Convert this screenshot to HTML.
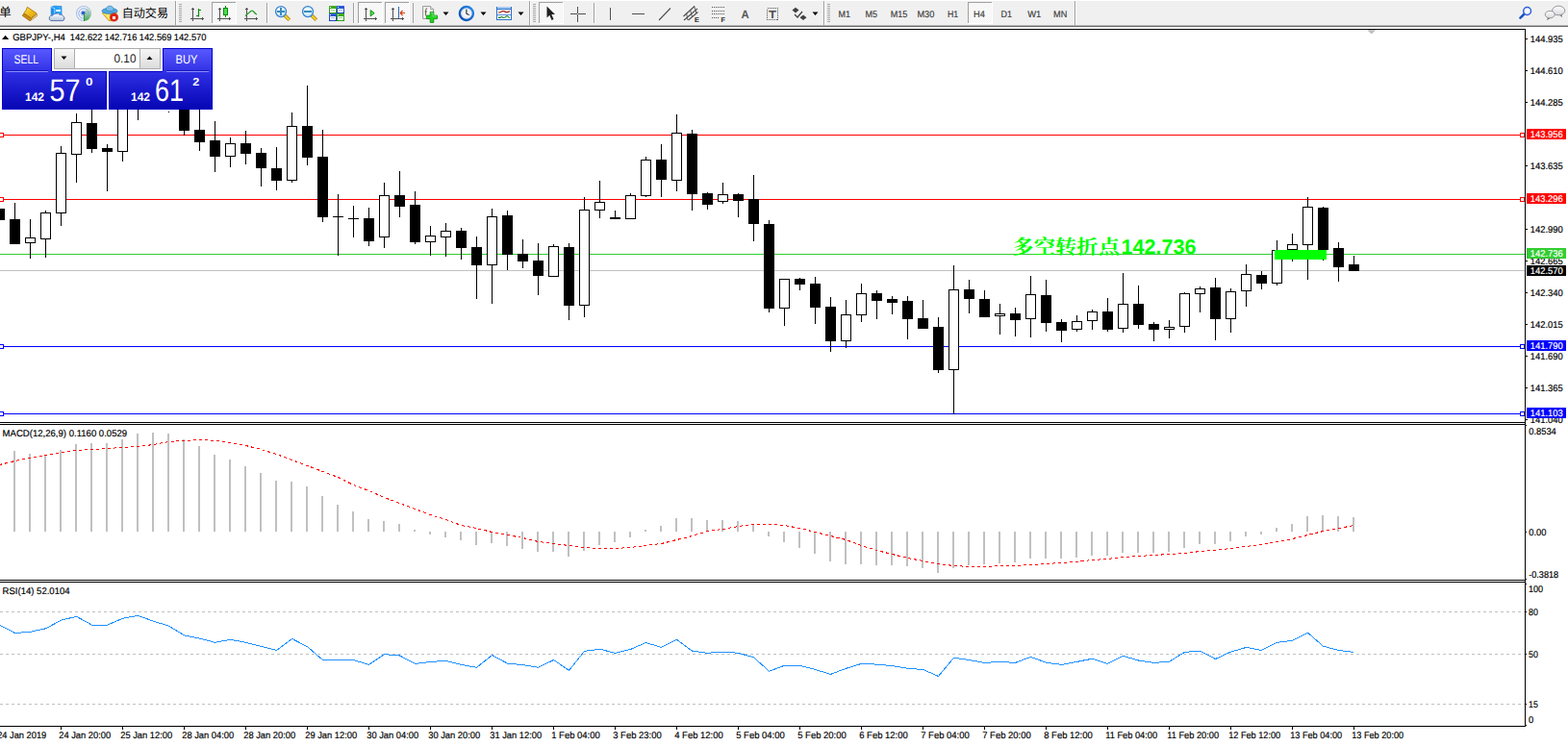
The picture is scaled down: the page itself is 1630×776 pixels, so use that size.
<!DOCTYPE html>
<html><head><meta charset="utf-8"><title>GBPJPY H4</title>
<style>html,body{margin:0;padding:0;background:#fff;overflow:hidden}svg{display:block}</style></head>
<body>
<svg width="1630" height="776" viewBox="0 0 1630 776" font-family="Liberation Sans, sans-serif" shape-rendering="crispEdges" text-rendering="geometricPrecision">
<rect x="0" y="0" width="1630" height="776" fill="#fff"/>
<rect x="0" y="30" width="1586" height="1" fill="#000"/>
<rect x="1585" y="30" width="1" height="726" fill="#000"/>
<rect x="0" y="439" width="1586" height="1" fill="#000"/>
<rect x="0" y="441" width="1586" height="1" fill="#000"/>
<rect x="0" y="603" width="1586" height="1" fill="#000"/>
<rect x="0" y="605" width="1586" height="1" fill="#000"/>
<rect x="0" y="755" width="1586" height="1" fill="#000"/>
<rect x="0" y="281" width="1585" height="1" fill="#c0c0c0"/>
<rect x="0" y="264" width="1585" height="1" fill="#32cd32"/>
<rect x="0" y="140" width="1585" height="1" fill="#ff0000"/>
<rect x="0" y="207" width="1585" height="1" fill="#ff0000"/>
<rect x="0" y="360" width="1585" height="1" fill="#0000ff"/>
<rect x="0" y="430" width="1585" height="1" fill="#0000ff"/>
<rect x="15" y="211" width="1" height="43" fill="#000"/>
<rect x="10" y="228" width="11" height="26" fill="#000"/>
<rect x="31" y="228" width="1" height="41" fill="#000"/>
<rect x="26" y="247" width="11" height="6" fill="#000"/>
<rect x="27" y="248" width="9" height="4" fill="#fff"/>
<rect x="47" y="219" width="1" height="49" fill="#000"/>
<rect x="42" y="221" width="11" height="28" fill="#000"/>
<rect x="43" y="222" width="9" height="26" fill="#fff"/>
<rect x="63" y="152" width="1" height="83" fill="#000"/>
<rect x="58" y="159" width="11" height="63" fill="#000"/>
<rect x="59" y="160" width="9" height="61" fill="#fff"/>
<rect x="79" y="118" width="1" height="72" fill="#000"/>
<rect x="74" y="127" width="11" height="34" fill="#000"/>
<rect x="75" y="128" width="9" height="32" fill="#fff"/>
<rect x="95" y="100" width="1" height="59" fill="#000"/>
<rect x="90" y="128" width="11" height="27" fill="#000"/>
<rect x="111" y="150" width="1" height="49" fill="#000"/>
<rect x="106" y="154" width="11" height="4" fill="#000"/>
<rect x="127" y="90" width="1" height="78" fill="#000"/>
<rect x="122" y="100" width="11" height="58" fill="#000"/>
<rect x="123" y="101" width="9" height="56" fill="#fff"/>
<rect x="143" y="90" width="1" height="35" fill="#000"/>
<rect x="138" y="100" width="11" height="13" fill="#000"/>
<rect x="207" y="110" width="1" height="47" fill="#000"/>
<rect x="202" y="135" width="11" height="13" fill="#000"/>
<rect x="223" y="126" width="1" height="53" fill="#000"/>
<rect x="218" y="146" width="11" height="17" fill="#000"/>
<rect x="239" y="143" width="1" height="31" fill="#000"/>
<rect x="234" y="149" width="11" height="14" fill="#000"/>
<rect x="235" y="150" width="9" height="12" fill="#fff"/>
<rect x="255" y="136" width="1" height="35" fill="#000"/>
<rect x="250" y="149" width="11" height="11" fill="#000"/>
<rect x="271" y="154" width="1" height="40" fill="#000"/>
<rect x="266" y="159" width="11" height="16" fill="#000"/>
<rect x="287" y="153" width="1" height="45" fill="#000"/>
<rect x="282" y="175" width="11" height="13" fill="#000"/>
<rect x="303" y="117" width="1" height="73" fill="#000"/>
<rect x="298" y="131" width="11" height="57" fill="#000"/>
<rect x="299" y="132" width="9" height="55" fill="#fff"/>
<rect x="319" y="89" width="1" height="83" fill="#000"/>
<rect x="314" y="131" width="11" height="33" fill="#000"/>
<rect x="335" y="135" width="1" height="96" fill="#000"/>
<rect x="330" y="163" width="11" height="63" fill="#000"/>
<rect x="351" y="202" width="1" height="64" fill="#000"/>
<rect x="346" y="225" width="11" height="1" fill="#000"/>
<rect x="367" y="214" width="1" height="33" fill="#000"/>
<rect x="362" y="227" width="11" height="1" fill="#000"/>
<rect x="383" y="216" width="1" height="40" fill="#000"/>
<rect x="378" y="227" width="11" height="24" fill="#000"/>
<rect x="399" y="190" width="1" height="68" fill="#000"/>
<rect x="394" y="203" width="11" height="44" fill="#000"/>
<rect x="395" y="204" width="9" height="42" fill="#fff"/>
<rect x="415" y="178" width="1" height="48" fill="#000"/>
<rect x="410" y="203" width="11" height="12" fill="#000"/>
<rect x="431" y="199" width="1" height="55" fill="#000"/>
<rect x="426" y="213" width="11" height="39" fill="#000"/>
<rect x="447" y="235" width="1" height="31" fill="#000"/>
<rect x="442" y="245" width="11" height="7" fill="#000"/>
<rect x="443" y="246" width="9" height="5" fill="#fff"/>
<rect x="463" y="232" width="1" height="35" fill="#000"/>
<rect x="458" y="240" width="11" height="7" fill="#000"/>
<rect x="459" y="241" width="9" height="5" fill="#fff"/>
<rect x="479" y="237" width="1" height="33" fill="#000"/>
<rect x="474" y="240" width="11" height="18" fill="#000"/>
<rect x="495" y="246" width="1" height="65" fill="#000"/>
<rect x="490" y="257" width="11" height="19" fill="#000"/>
<rect x="511" y="217" width="1" height="99" fill="#000"/>
<rect x="506" y="225" width="11" height="51" fill="#000"/>
<rect x="507" y="226" width="9" height="49" fill="#fff"/>
<rect x="527" y="219" width="1" height="62" fill="#000"/>
<rect x="522" y="224" width="11" height="41" fill="#000"/>
<rect x="543" y="249" width="1" height="30" fill="#000"/>
<rect x="538" y="264" width="11" height="8" fill="#000"/>
<rect x="559" y="253" width="1" height="54" fill="#000"/>
<rect x="554" y="271" width="11" height="16" fill="#000"/>
<rect x="575" y="254" width="1" height="34" fill="#000"/>
<rect x="570" y="256" width="11" height="32" fill="#000"/>
<rect x="571" y="257" width="9" height="30" fill="#fff"/>
<rect x="591" y="253" width="1" height="80" fill="#000"/>
<rect x="586" y="257" width="11" height="61" fill="#000"/>
<rect x="607" y="205" width="1" height="125" fill="#000"/>
<rect x="602" y="218" width="11" height="100" fill="#000"/>
<rect x="603" y="219" width="9" height="98" fill="#fff"/>
<rect x="623" y="188" width="1" height="39" fill="#000"/>
<rect x="618" y="210" width="11" height="9" fill="#000"/>
<rect x="619" y="211" width="9" height="7" fill="#fff"/>
<rect x="639" y="219" width="1" height="9" fill="#000"/>
<rect x="634" y="226" width="11" height="2" fill="#000"/>
<rect x="655" y="201" width="1" height="27" fill="#000"/>
<rect x="650" y="203" width="11" height="25" fill="#000"/>
<rect x="651" y="204" width="9" height="23" fill="#fff"/>
<rect x="671" y="163" width="1" height="42" fill="#000"/>
<rect x="666" y="166" width="11" height="38" fill="#000"/>
<rect x="667" y="167" width="9" height="36" fill="#fff"/>
<rect x="687" y="150" width="1" height="55" fill="#000"/>
<rect x="682" y="166" width="11" height="21" fill="#000"/>
<rect x="703" y="119" width="1" height="80" fill="#000"/>
<rect x="698" y="138" width="11" height="50" fill="#000"/>
<rect x="699" y="139" width="9" height="48" fill="#fff"/>
<rect x="719" y="135" width="1" height="84" fill="#000"/>
<rect x="714" y="139" width="11" height="63" fill="#000"/>
<rect x="735" y="200" width="1" height="18" fill="#000"/>
<rect x="730" y="201" width="11" height="12" fill="#000"/>
<rect x="751" y="190" width="1" height="22" fill="#000"/>
<rect x="746" y="202" width="11" height="8" fill="#000"/>
<rect x="747" y="203" width="9" height="6" fill="#fff"/>
<rect x="767" y="201" width="1" height="25" fill="#000"/>
<rect x="762" y="202" width="11" height="7" fill="#000"/>
<rect x="783" y="182" width="1" height="69" fill="#000"/>
<rect x="778" y="207" width="11" height="26" fill="#000"/>
<rect x="799" y="229" width="1" height="96" fill="#000"/>
<rect x="794" y="233" width="11" height="88" fill="#000"/>
<rect x="815" y="290" width="1" height="49" fill="#000"/>
<rect x="810" y="290" width="11" height="31" fill="#000"/>
<rect x="811" y="291" width="9" height="29" fill="#fff"/>
<rect x="831" y="289" width="1" height="13" fill="#000"/>
<rect x="826" y="290" width="11" height="6" fill="#000"/>
<rect x="847" y="288" width="1" height="49" fill="#000"/>
<rect x="842" y="295" width="11" height="25" fill="#000"/>
<rect x="863" y="309" width="1" height="57" fill="#000"/>
<rect x="858" y="319" width="11" height="36" fill="#000"/>
<rect x="879" y="312" width="1" height="50" fill="#000"/>
<rect x="874" y="327" width="11" height="28" fill="#000"/>
<rect x="875" y="328" width="9" height="26" fill="#fff"/>
<rect x="895" y="295" width="1" height="40" fill="#000"/>
<rect x="890" y="305" width="11" height="23" fill="#000"/>
<rect x="891" y="306" width="9" height="21" fill="#fff"/>
<rect x="911" y="302" width="1" height="30" fill="#000"/>
<rect x="906" y="305" width="11" height="8" fill="#000"/>
<rect x="927" y="308" width="1" height="19" fill="#000"/>
<rect x="922" y="311" width="11" height="4" fill="#000"/>
<rect x="943" y="308" width="1" height="45" fill="#000"/>
<rect x="938" y="313" width="11" height="19" fill="#000"/>
<rect x="959" y="312" width="1" height="30" fill="#000"/>
<rect x="954" y="331" width="11" height="11" fill="#000"/>
<rect x="975" y="330" width="1" height="58" fill="#000"/>
<rect x="970" y="340" width="11" height="45" fill="#000"/>
<rect x="991" y="276" width="1" height="155" fill="#000"/>
<rect x="986" y="301" width="11" height="84" fill="#000"/>
<rect x="987" y="302" width="9" height="82" fill="#fff"/>
<rect x="1007" y="291" width="1" height="35" fill="#000"/>
<rect x="1002" y="301" width="11" height="10" fill="#000"/>
<rect x="1023" y="302" width="1" height="28" fill="#000"/>
<rect x="1018" y="311" width="11" height="19" fill="#000"/>
<rect x="1039" y="316" width="1" height="32" fill="#000"/>
<rect x="1034" y="326" width="11" height="3" fill="#000"/>
<rect x="1035" y="327" width="9" height="1" fill="#fff"/>
<rect x="1055" y="320" width="1" height="30" fill="#000"/>
<rect x="1050" y="326" width="11" height="7" fill="#000"/>
<rect x="1071" y="287" width="1" height="64" fill="#000"/>
<rect x="1066" y="306" width="11" height="26" fill="#000"/>
<rect x="1067" y="307" width="9" height="24" fill="#fff"/>
<rect x="1087" y="291" width="1" height="54" fill="#000"/>
<rect x="1082" y="307" width="11" height="29" fill="#000"/>
<rect x="1103" y="332" width="1" height="24" fill="#000"/>
<rect x="1098" y="335" width="11" height="9" fill="#000"/>
<rect x="1119" y="328" width="1" height="17" fill="#000"/>
<rect x="1114" y="334" width="11" height="9" fill="#000"/>
<rect x="1115" y="335" width="9" height="7" fill="#fff"/>
<rect x="1135" y="322" width="1" height="21" fill="#000"/>
<rect x="1130" y="324" width="11" height="10" fill="#000"/>
<rect x="1131" y="325" width="9" height="8" fill="#fff"/>
<rect x="1151" y="310" width="1" height="35" fill="#000"/>
<rect x="1146" y="324" width="11" height="19" fill="#000"/>
<rect x="1167" y="284" width="1" height="62" fill="#000"/>
<rect x="1162" y="316" width="11" height="26" fill="#000"/>
<rect x="1163" y="317" width="9" height="24" fill="#fff"/>
<rect x="1183" y="297" width="1" height="45" fill="#000"/>
<rect x="1178" y="316" width="11" height="22" fill="#000"/>
<rect x="1199" y="335" width="1" height="20" fill="#000"/>
<rect x="1194" y="337" width="11" height="6" fill="#000"/>
<rect x="1215" y="333" width="1" height="19" fill="#000"/>
<rect x="1210" y="340" width="11" height="3" fill="#000"/>
<rect x="1211" y="341" width="9" height="1" fill="#fff"/>
<rect x="1231" y="304" width="1" height="42" fill="#000"/>
<rect x="1226" y="305" width="11" height="35" fill="#000"/>
<rect x="1227" y="306" width="9" height="33" fill="#fff"/>
<rect x="1247" y="298" width="1" height="27" fill="#000"/>
<rect x="1242" y="300" width="11" height="6" fill="#000"/>
<rect x="1243" y="301" width="9" height="4" fill="#fff"/>
<rect x="1263" y="289" width="1" height="65" fill="#000"/>
<rect x="1258" y="299" width="11" height="33" fill="#000"/>
<rect x="1279" y="300" width="1" height="46" fill="#000"/>
<rect x="1274" y="303" width="11" height="29" fill="#000"/>
<rect x="1275" y="304" width="9" height="27" fill="#fff"/>
<rect x="1295" y="275" width="1" height="44" fill="#000"/>
<rect x="1290" y="285" width="11" height="18" fill="#000"/>
<rect x="1291" y="286" width="9" height="16" fill="#fff"/>
<rect x="1311" y="282" width="1" height="19" fill="#000"/>
<rect x="1306" y="286" width="11" height="9" fill="#000"/>
<rect x="1327" y="250" width="1" height="47" fill="#000"/>
<rect x="1322" y="260" width="11" height="35" fill="#000"/>
<rect x="1323" y="261" width="9" height="33" fill="#fff"/>
<rect x="1343" y="243" width="1" height="29" fill="#000"/>
<rect x="1338" y="254" width="11" height="6" fill="#000"/>
<rect x="1339" y="255" width="9" height="4" fill="#fff"/>
<rect x="1359" y="205" width="1" height="86" fill="#000"/>
<rect x="1354" y="215" width="11" height="40" fill="#000"/>
<rect x="1355" y="216" width="9" height="38" fill="#fff"/>
<rect x="1375" y="215" width="1" height="56" fill="#000"/>
<rect x="1370" y="216" width="11" height="44" fill="#000"/>
<rect x="1391" y="252" width="1" height="41" fill="#000"/>
<rect x="1386" y="258" width="11" height="20" fill="#000"/>
<rect x="1407" y="266" width="1" height="16" fill="#000"/>
<rect x="1402" y="275" width="11" height="7" fill="#000"/>
<rect x="-1" y="217" width="1" height="12" fill="#000"/>
<rect x="-6" y="217" width="11" height="12" fill="#000"/>
<rect x="175" y="116" width="1" height="1" fill="#000"/>
<rect x="191" y="100" width="1" height="41" fill="#000"/>
<rect x="186" y="105" width="11" height="31" fill="#000"/>
<rect x="-1" y="138" width="5" height="5" fill="#ff0000"/>
<rect x="0" y="139" width="3" height="3" fill="#fff"/>
<rect x="1580" y="138" width="5" height="5" fill="#ff0000"/>
<rect x="1581" y="139" width="3" height="3" fill="#fff"/>
<rect x="-1" y="205" width="5" height="5" fill="#ff0000"/>
<rect x="0" y="206" width="3" height="3" fill="#fff"/>
<rect x="1580" y="205" width="5" height="5" fill="#ff0000"/>
<rect x="1581" y="206" width="3" height="3" fill="#fff"/>
<rect x="-1" y="358" width="5" height="5" fill="#0000ff"/>
<rect x="0" y="359" width="3" height="3" fill="#fff"/>
<rect x="1580" y="358" width="5" height="5" fill="#0000ff"/>
<rect x="1581" y="359" width="3" height="3" fill="#fff"/>
<rect x="-1" y="428" width="5" height="5" fill="#0000ff"/>
<rect x="0" y="429" width="3" height="3" fill="#fff"/>
<rect x="1580" y="428" width="5" height="5" fill="#0000ff"/>
<rect x="1581" y="429" width="3" height="3" fill="#fff"/>
<rect x="14" y="469" width="2" height="84" fill="#c0c0c0"/>
<rect x="30" y="472" width="2" height="81" fill="#c0c0c0"/>
<rect x="46" y="473" width="2" height="80" fill="#c0c0c0"/>
<rect x="62" y="468" width="2" height="85" fill="#c0c0c0"/>
<rect x="78" y="462" width="2" height="91" fill="#c0c0c0"/>
<rect x="94" y="461" width="2" height="92" fill="#c0c0c0"/>
<rect x="110" y="461" width="2" height="92" fill="#c0c0c0"/>
<rect x="126" y="457" width="2" height="96" fill="#c0c0c0"/>
<rect x="142" y="451" width="2" height="102" fill="#c0c0c0"/>
<rect x="158" y="450" width="2" height="103" fill="#c0c0c0"/>
<rect x="174" y="451" width="2" height="102" fill="#c0c0c0"/>
<rect x="190" y="457" width="2" height="96" fill="#c0c0c0"/>
<rect x="206" y="464" width="2" height="89" fill="#c0c0c0"/>
<rect x="222" y="473" width="2" height="80" fill="#c0c0c0"/>
<rect x="238" y="478" width="2" height="75" fill="#c0c0c0"/>
<rect x="254" y="485" width="2" height="68" fill="#c0c0c0"/>
<rect x="270" y="492" width="2" height="61" fill="#c0c0c0"/>
<rect x="286" y="500" width="2" height="53" fill="#c0c0c0"/>
<rect x="302" y="501" width="2" height="52" fill="#c0c0c0"/>
<rect x="318" y="506" width="2" height="47" fill="#c0c0c0"/>
<rect x="334" y="516" width="2" height="37" fill="#c0c0c0"/>
<rect x="350" y="525" width="2" height="28" fill="#c0c0c0"/>
<rect x="366" y="532" width="2" height="21" fill="#c0c0c0"/>
<rect x="382" y="540" width="2" height="13" fill="#c0c0c0"/>
<rect x="398" y="542" width="2" height="11" fill="#c0c0c0"/>
<rect x="414" y="545" width="2" height="8" fill="#c0c0c0"/>
<rect x="430" y="551" width="2" height="2" fill="#c0c0c0"/>
<rect x="446" y="553" width="2" height="3" fill="#c0c0c0"/>
<rect x="462" y="553" width="2" height="6" fill="#c0c0c0"/>
<rect x="478" y="553" width="2" height="9" fill="#c0c0c0"/>
<rect x="494" y="553" width="2" height="14" fill="#c0c0c0"/>
<rect x="510" y="553" width="2" height="12" fill="#c0c0c0"/>
<rect x="526" y="553" width="2" height="15" fill="#c0c0c0"/>
<rect x="542" y="553" width="2" height="18" fill="#c0c0c0"/>
<rect x="558" y="553" width="2" height="21" fill="#c0c0c0"/>
<rect x="574" y="553" width="2" height="21" fill="#c0c0c0"/>
<rect x="590" y="553" width="2" height="26" fill="#c0c0c0"/>
<rect x="606" y="553" width="2" height="20" fill="#c0c0c0"/>
<rect x="622" y="553" width="2" height="14" fill="#c0c0c0"/>
<rect x="638" y="553" width="2" height="11" fill="#c0c0c0"/>
<rect x="654" y="553" width="2" height="6" fill="#c0c0c0"/>
<rect x="670" y="551" width="2" height="2" fill="#c0c0c0"/>
<rect x="686" y="547" width="2" height="6" fill="#c0c0c0"/>
<rect x="702" y="539" width="2" height="14" fill="#c0c0c0"/>
<rect x="718" y="539" width="2" height="14" fill="#c0c0c0"/>
<rect x="734" y="541" width="2" height="12" fill="#c0c0c0"/>
<rect x="750" y="541" width="2" height="12" fill="#c0c0c0"/>
<rect x="766" y="542" width="2" height="11" fill="#c0c0c0"/>
<rect x="782" y="545" width="2" height="8" fill="#c0c0c0"/>
<rect x="798" y="553" width="2" height="5" fill="#c0c0c0"/>
<rect x="814" y="553" width="2" height="11" fill="#c0c0c0"/>
<rect x="830" y="553" width="2" height="17" fill="#c0c0c0"/>
<rect x="846" y="553" width="2" height="23" fill="#c0c0c0"/>
<rect x="862" y="553" width="2" height="31" fill="#c0c0c0"/>
<rect x="878" y="553" width="2" height="34" fill="#c0c0c0"/>
<rect x="894" y="553" width="2" height="34" fill="#c0c0c0"/>
<rect x="910" y="553" width="2" height="35" fill="#c0c0c0"/>
<rect x="926" y="553" width="2" height="35" fill="#c0c0c0"/>
<rect x="942" y="553" width="2" height="36" fill="#c0c0c0"/>
<rect x="958" y="553" width="2" height="38" fill="#c0c0c0"/>
<rect x="974" y="553" width="2" height="43" fill="#c0c0c0"/>
<rect x="990" y="553" width="2" height="38" fill="#c0c0c0"/>
<rect x="1006" y="553" width="2" height="35" fill="#c0c0c0"/>
<rect x="1022" y="553" width="2" height="34" fill="#c0c0c0"/>
<rect x="1038" y="553" width="2" height="33" fill="#c0c0c0"/>
<rect x="1054" y="553" width="2" height="32" fill="#c0c0c0"/>
<rect x="1070" y="553" width="2" height="28" fill="#c0c0c0"/>
<rect x="1086" y="553" width="2" height="28" fill="#c0c0c0"/>
<rect x="1102" y="553" width="2" height="28" fill="#c0c0c0"/>
<rect x="1118" y="553" width="2" height="27" fill="#c0c0c0"/>
<rect x="1134" y="553" width="2" height="25" fill="#c0c0c0"/>
<rect x="1150" y="553" width="2" height="25" fill="#c0c0c0"/>
<rect x="1166" y="553" width="2" height="22" fill="#c0c0c0"/>
<rect x="1182" y="553" width="2" height="22" fill="#c0c0c0"/>
<rect x="1198" y="553" width="2" height="22" fill="#c0c0c0"/>
<rect x="1214" y="553" width="2" height="21" fill="#c0c0c0"/>
<rect x="1230" y="553" width="2" height="17" fill="#c0c0c0"/>
<rect x="1246" y="553" width="2" height="13" fill="#c0c0c0"/>
<rect x="1262" y="553" width="2" height="13" fill="#c0c0c0"/>
<rect x="1278" y="553" width="2" height="10" fill="#c0c0c0"/>
<rect x="1294" y="553" width="2" height="5" fill="#c0c0c0"/>
<rect x="1310" y="553" width="2" height="3" fill="#c0c0c0"/>
<rect x="1326" y="549" width="2" height="4" fill="#c0c0c0"/>
<rect x="1342" y="545" width="2" height="8" fill="#c0c0c0"/>
<rect x="1358" y="537" width="2" height="16" fill="#c0c0c0"/>
<rect x="1374" y="536" width="2" height="17" fill="#c0c0c0"/>
<rect x="1390" y="537" width="2" height="16" fill="#c0c0c0"/>
<rect x="1406" y="538" width="2" height="15" fill="#c0c0c0"/>
<polyline points="-0.5,483.5 15.5,479.5 31.5,476.5 47.5,473.5 63.5,470.5 79.5,468.5 95.5,467.5 111.5,466.5 127.5,465.5 143.5,464.5 159.5,462.5 175.5,459.5 191.5,458.5 207.5,457.5 223.5,458.5 239.5,460.5 255.5,463.5 271.5,467.5 287.5,472.5 303.5,478.5 319.5,484.5 335.5,490.5 351.5,496.5 367.5,504.5 383.5,510.5 399.5,517.5 415.5,523.5 431.5,529.5 447.5,535.5 463.5,540.5 479.5,546.5 495.5,549.5 511.5,553.5 527.5,556.5 543.5,559.5 559.5,563.5 575.5,565.5 591.5,567.5 607.5,569.5 623.5,570.5 639.5,570.5 655.5,569.5 671.5,567.5 687.5,565.5 703.5,561.5 719.5,557.5 735.5,552.5 751.5,550.5 767.5,547.5 783.5,545.5 799.5,545.5 815.5,546.5 831.5,549.5 847.5,553.5 863.5,557.5 879.5,561.5 895.5,567.5 911.5,572.5 927.5,576.5 943.5,580.5 959.5,583.5 975.5,586.5 991.5,588.5 1007.5,589.5 1023.5,589.5 1039.5,588.5 1055.5,588.5 1071.5,587.5 1087.5,586.5 1103.5,585.5 1119.5,584.5 1135.5,582.5 1151.5,581.5 1167.5,579.5 1183.5,578.5 1199.5,577.5 1215.5,576.5 1231.5,575.5 1247.5,573.5 1263.5,572.5 1279.5,570.5 1295.5,568.5 1311.5,566.5 1327.5,563.5 1343.5,560.5 1359.5,556.5 1375.5,552.5 1391.5,549.5 1407.5,546.5" fill="none" stroke="#ff0000" stroke-width="1" stroke-dasharray="3 3"/>
<line x1="0" y1="636.5" x2="1585" y2="636.5" stroke="#c0c0c0" stroke-width="1" stroke-dasharray="3 3"/>
<line x1="0" y1="680.5" x2="1585" y2="680.5" stroke="#c0c0c0" stroke-width="1" stroke-dasharray="3 3"/>
<line x1="0" y1="732.5" x2="1585" y2="732.5" stroke="#c0c0c0" stroke-width="1" stroke-dasharray="3 3"/>
<polyline points="-0.5,650.1 15.5,658.5 31.5,657.3 47.5,653.8 63.5,645.2 79.5,641.3 95.5,650.1 111.5,650.1 127.5,643.3 143.5,640.3 159.5,646.2 175.5,651.1 191.5,660.9 207.5,664.1 223.5,668.3 239.5,665.3 255.5,668.3 271.5,672.5 287.5,676.4 303.5,664.4 319.5,672.7 335.5,686.5 351.5,686.5 367.5,686.5 383.5,691.4 399.5,680.6 415.5,682.0 431.5,690.4 447.5,688.4 463.5,687.4 479.5,691.4 495.5,694.3 511.5,681.5 527.5,690.1 543.5,691.6 559.5,694.3 575.5,686.5 591.5,697.3 607.5,677.4 623.5,675.2 639.5,679.3 655.5,675.4 671.5,668.5 687.5,673.4 703.5,665.3 719.5,677.1 735.5,679.3 751.5,678.1 767.5,679.3 783.5,683.8 799.5,698.2 815.5,692.3 831.5,692.3 847.5,696.5 863.5,701.4 879.5,695.3 895.5,690.4 911.5,691.1 927.5,692.6 943.5,695.3 959.5,696.5 975.5,703.4 991.5,684.2 1007.5,686.5 1023.5,689.4 1039.5,688.4 1055.5,689.4 1071.5,683.3 1087.5,689.2 1103.5,691.4 1119.5,688.4 1135.5,685.2 1151.5,690.4 1167.5,682.3 1183.5,687.0 1199.5,689.4 1215.5,688.2 1231.5,678.4 1247.5,677.1 1263.5,685.5 1279.5,678.1 1295.5,673.4 1311.5,676.4 1327.5,668.3 1343.5,666.3 1359.5,658.2 1375.5,672.2 1391.5,676.4 1407.5,678.4" fill="none" stroke="#1e90ff" stroke-width="1"/>
<rect x="1586" y="40" width="2" height="1" fill="#000"/>
<text x="1590.8" y="44" font-size="9.8" textLength="34" lengthAdjust="spacingAndGlyphs" fill="#000" stroke="#000" stroke-width="0.18">144.935</text>
<rect x="1586" y="73" width="2" height="1" fill="#000"/>
<text x="1590.8" y="77" font-size="9.8" textLength="34" lengthAdjust="spacingAndGlyphs" fill="#000" stroke="#000" stroke-width="0.18">144.610</text>
<rect x="1586" y="106" width="2" height="1" fill="#000"/>
<text x="1590.8" y="110" font-size="9.8" textLength="34" lengthAdjust="spacingAndGlyphs" fill="#000" stroke="#000" stroke-width="0.18">144.285</text>
<rect x="1586" y="172" width="2" height="1" fill="#000"/>
<text x="1590.8" y="176" font-size="9.8" textLength="34" lengthAdjust="spacingAndGlyphs" fill="#000" stroke="#000" stroke-width="0.18">143.635</text>
<rect x="1586" y="238" width="2" height="1" fill="#000"/>
<text x="1590.8" y="242" font-size="9.8" textLength="34" lengthAdjust="spacingAndGlyphs" fill="#000" stroke="#000" stroke-width="0.18">142.990</text>
<rect x="1586" y="271" width="2" height="1" fill="#000"/>
<text x="1590.8" y="275" font-size="9.8" textLength="34" lengthAdjust="spacingAndGlyphs" fill="#000" stroke="#000" stroke-width="0.18">142.665</text>
<rect x="1586" y="304" width="2" height="1" fill="#000"/>
<text x="1590.8" y="308" font-size="9.8" textLength="34" lengthAdjust="spacingAndGlyphs" fill="#000" stroke="#000" stroke-width="0.18">142.340</text>
<rect x="1586" y="337" width="2" height="1" fill="#000"/>
<text x="1590.8" y="341" font-size="9.8" textLength="34" lengthAdjust="spacingAndGlyphs" fill="#000" stroke="#000" stroke-width="0.18">142.015</text>
<rect x="1586" y="370" width="2" height="1" fill="#000"/>
<text x="1590.8" y="374" font-size="9.8" textLength="34" lengthAdjust="spacingAndGlyphs" fill="#000" stroke="#000" stroke-width="0.18">141.690</text>
<rect x="1586" y="403" width="2" height="1" fill="#000"/>
<text x="1590.8" y="407" font-size="9.8" textLength="34" lengthAdjust="spacingAndGlyphs" fill="#000" stroke="#000" stroke-width="0.18">141.365</text>
<rect x="1586" y="436" width="2" height="1" fill="#000"/>
<text x="1590.8" y="440" font-size="9.8" textLength="34" lengthAdjust="spacingAndGlyphs" fill="#000" stroke="#000" stroke-width="0.18">141.040</text>
<rect x="1587" y="134" width="41" height="11" fill="#ff0000"/>
<text x="1590.8" y="143" font-size="9.8" textLength="34" lengthAdjust="spacingAndGlyphs" fill="#fff" stroke="#fff" stroke-width="0.18">143.956</text>
<rect x="1587" y="201" width="41" height="11" fill="#ff0000"/>
<text x="1590.8" y="210" font-size="9.8" textLength="34" lengthAdjust="spacingAndGlyphs" fill="#fff" stroke="#fff" stroke-width="0.18">143.296</text>
<rect x="1587" y="258" width="41" height="11" fill="#32cd32"/>
<text x="1590.8" y="267" font-size="9.8" textLength="34" lengthAdjust="spacingAndGlyphs" fill="#fff" stroke="#fff" stroke-width="0.18">142.736</text>
<rect x="1587" y="276" width="41" height="11" fill="#000"/>
<text x="1590.8" y="285" font-size="9.8" textLength="34" lengthAdjust="spacingAndGlyphs" fill="#fff" stroke="#fff" stroke-width="0.18">142.570</text>
<rect x="1587" y="354" width="41" height="11" fill="#0000ff"/>
<text x="1590.8" y="363" font-size="9.8" textLength="34" lengthAdjust="spacingAndGlyphs" fill="#fff" stroke="#fff" stroke-width="0.18">141.790</text>
<rect x="1587" y="424" width="41" height="11" fill="#0000ff"/>
<text x="1590.8" y="433" font-size="9.8" textLength="34" lengthAdjust="spacingAndGlyphs" fill="#fff" stroke="#fff" stroke-width="0.18">141.103</text>
<text x="1589.2" y="452" font-size="9.8" textLength="28.6" lengthAdjust="spacingAndGlyphs" fill="#000" stroke="#000" stroke-width="0.18">0.8534</text>
<text x="1589.2" y="557" font-size="9.8" textLength="18.2" lengthAdjust="spacingAndGlyphs" fill="#000" stroke="#000" stroke-width="0.18">0.00</text>
<text x="1589.2" y="601" font-size="9.8" textLength="31" lengthAdjust="spacingAndGlyphs" fill="#000" stroke="#000" stroke-width="0.18">-0.3818</text>
<rect x="1586" y="442" width="1" height="1" fill="#000"/>
<rect x="1586" y="553" width="1" height="1" fill="#000"/>
<rect x="1586" y="602" width="1" height="1" fill="#000"/>
<rect x="1586" y="607" width="1" height="1" fill="#000"/>
<rect x="1586" y="636" width="1" height="1" fill="#000"/>
<rect x="1586" y="680" width="1" height="1" fill="#000"/>
<rect x="1586" y="732" width="1" height="1" fill="#000"/>
<rect x="1586" y="754" width="1" height="1" fill="#000"/>
<text x="1589.0" y="616" font-size="9.8" textLength="15.2" lengthAdjust="spacingAndGlyphs" fill="#000" stroke="#000" stroke-width="0.18">100</text>
<text x="1589.0" y="640" font-size="9.8" textLength="9.8" lengthAdjust="spacingAndGlyphs" fill="#000" stroke="#000" stroke-width="0.18">80</text>
<text x="1589.0" y="684" font-size="9.8" textLength="9.8" lengthAdjust="spacingAndGlyphs" fill="#000" stroke="#000" stroke-width="0.18">50</text>
<text x="1589.0" y="736" font-size="9.8" textLength="9.8" lengthAdjust="spacingAndGlyphs" fill="#000" stroke="#000" stroke-width="0.18">15</text>
<text x="1589.0" y="752" font-size="9.8" textLength="5.2" lengthAdjust="spacingAndGlyphs" fill="#000" stroke="#000" stroke-width="0.18">0</text>
<rect x="-1" y="756" width="1" height="3" fill="#000"/>
<text x="-2.8" y="767.6" font-size="9.8" textLength="51" lengthAdjust="spacingAndGlyphs" fill="#000" stroke="#000" stroke-width="0.18">24 Jan 2019</text>
<rect x="63" y="756" width="1" height="3" fill="#000"/>
<text x="61.2" y="767.6" font-size="9.8" textLength="54" lengthAdjust="spacingAndGlyphs" fill="#000" stroke="#000" stroke-width="0.18">24 Jan 20:00</text>
<rect x="127" y="756" width="1" height="3" fill="#000"/>
<text x="125.2" y="767.6" font-size="9.8" textLength="54" lengthAdjust="spacingAndGlyphs" fill="#000" stroke="#000" stroke-width="0.18">25 Jan 12:00</text>
<rect x="191" y="756" width="1" height="3" fill="#000"/>
<text x="189.2" y="767.6" font-size="9.8" textLength="54" lengthAdjust="spacingAndGlyphs" fill="#000" stroke="#000" stroke-width="0.18">28 Jan 04:00</text>
<rect x="255" y="756" width="1" height="3" fill="#000"/>
<text x="253.2" y="767.6" font-size="9.8" textLength="54" lengthAdjust="spacingAndGlyphs" fill="#000" stroke="#000" stroke-width="0.18">28 Jan 20:00</text>
<rect x="319" y="756" width="1" height="3" fill="#000"/>
<text x="317.2" y="767.6" font-size="9.8" textLength="54" lengthAdjust="spacingAndGlyphs" fill="#000" stroke="#000" stroke-width="0.18">29 Jan 12:00</text>
<rect x="383" y="756" width="1" height="3" fill="#000"/>
<text x="381.2" y="767.6" font-size="9.8" textLength="54" lengthAdjust="spacingAndGlyphs" fill="#000" stroke="#000" stroke-width="0.18">30 Jan 04:00</text>
<rect x="447" y="756" width="1" height="3" fill="#000"/>
<text x="445.2" y="767.6" font-size="9.8" textLength="54" lengthAdjust="spacingAndGlyphs" fill="#000" stroke="#000" stroke-width="0.18">30 Jan 20:00</text>
<rect x="511" y="756" width="1" height="3" fill="#000"/>
<text x="509.2" y="767.6" font-size="9.8" textLength="54" lengthAdjust="spacingAndGlyphs" fill="#000" stroke="#000" stroke-width="0.18">31 Jan 12:00</text>
<rect x="575" y="756" width="1" height="3" fill="#000"/>
<text x="573.2" y="767.6" font-size="9.8" textLength="50.6" lengthAdjust="spacingAndGlyphs" fill="#000" stroke="#000" stroke-width="0.18">1 Feb 04:00</text>
<rect x="639" y="756" width="1" height="3" fill="#000"/>
<text x="637.2" y="767.6" font-size="9.8" textLength="50.6" lengthAdjust="spacingAndGlyphs" fill="#000" stroke="#000" stroke-width="0.18">3 Feb 23:00</text>
<rect x="703" y="756" width="1" height="3" fill="#000"/>
<text x="701.2" y="767.6" font-size="9.8" textLength="50.6" lengthAdjust="spacingAndGlyphs" fill="#000" stroke="#000" stroke-width="0.18">4 Feb 12:00</text>
<rect x="767" y="756" width="1" height="3" fill="#000"/>
<text x="765.2" y="767.6" font-size="9.8" textLength="50.6" lengthAdjust="spacingAndGlyphs" fill="#000" stroke="#000" stroke-width="0.18">5 Feb 04:00</text>
<rect x="831" y="756" width="1" height="3" fill="#000"/>
<text x="829.2" y="767.6" font-size="9.8" textLength="50.6" lengthAdjust="spacingAndGlyphs" fill="#000" stroke="#000" stroke-width="0.18">5 Feb 20:00</text>
<rect x="895" y="756" width="1" height="3" fill="#000"/>
<text x="893.2" y="767.6" font-size="9.8" textLength="50.6" lengthAdjust="spacingAndGlyphs" fill="#000" stroke="#000" stroke-width="0.18">6 Feb 12:00</text>
<rect x="959" y="756" width="1" height="3" fill="#000"/>
<text x="957.2" y="767.6" font-size="9.8" textLength="50.6" lengthAdjust="spacingAndGlyphs" fill="#000" stroke="#000" stroke-width="0.18">7 Feb 04:00</text>
<rect x="1023" y="756" width="1" height="3" fill="#000"/>
<text x="1021.2" y="767.6" font-size="9.8" textLength="50.6" lengthAdjust="spacingAndGlyphs" fill="#000" stroke="#000" stroke-width="0.18">7 Feb 20:00</text>
<rect x="1087" y="756" width="1" height="3" fill="#000"/>
<text x="1085.2" y="767.6" font-size="9.8" textLength="50.6" lengthAdjust="spacingAndGlyphs" fill="#000" stroke="#000" stroke-width="0.18">8 Feb 12:00</text>
<rect x="1151" y="756" width="1" height="3" fill="#000"/>
<text x="1149.2" y="767.6" font-size="9.8" textLength="54" lengthAdjust="spacingAndGlyphs" fill="#000" stroke="#000" stroke-width="0.18">11 Feb 04:00</text>
<rect x="1215" y="756" width="1" height="3" fill="#000"/>
<text x="1213.2" y="767.6" font-size="9.8" textLength="54" lengthAdjust="spacingAndGlyphs" fill="#000" stroke="#000" stroke-width="0.18">11 Feb 20:00</text>
<rect x="1279" y="756" width="1" height="3" fill="#000"/>
<text x="1277.2" y="767.6" font-size="9.8" textLength="54" lengthAdjust="spacingAndGlyphs" fill="#000" stroke="#000" stroke-width="0.18">12 Feb 12:00</text>
<rect x="1343" y="756" width="1" height="3" fill="#000"/>
<text x="1341.2" y="767.6" font-size="9.8" textLength="54" lengthAdjust="spacingAndGlyphs" fill="#000" stroke="#000" stroke-width="0.18">13 Feb 04:00</text>
<rect x="1407" y="756" width="1" height="3" fill="#000"/>
<text x="1405.2" y="767.6" font-size="9.8" textLength="54" lengthAdjust="spacingAndGlyphs" fill="#000" stroke="#000" stroke-width="0.18">13 Feb 20:00</text>
<path d="M2 41 L9.2 41 L5.6 36.8 Z" fill="#000" shape-rendering="auto"/>
<text x="13.2" y="42" font-size="9.8" textLength="54.6" lengthAdjust="spacingAndGlyphs" fill="#000" stroke="#000" stroke-width="0.18">GBPJPY-,H4</text>
<text x="72.7" y="42" font-size="9.8" textLength="33.8" lengthAdjust="spacingAndGlyphs" fill="#000" stroke="#000" stroke-width="0.18">142.622</text>
<text x="108.7" y="42" font-size="9.8" textLength="33.8" lengthAdjust="spacingAndGlyphs" fill="#000" stroke="#000" stroke-width="0.18">142.716</text>
<text x="144.7" y="42" font-size="9.8" textLength="33.8" lengthAdjust="spacingAndGlyphs" fill="#000" stroke="#000" stroke-width="0.18">142.569</text>
<text x="180.7" y="42" font-size="9.8" textLength="33.8" lengthAdjust="spacingAndGlyphs" fill="#000" stroke="#000" stroke-width="0.18">142.570</text>
<text x="2.6" y="454" font-size="9.8" textLength="129.5" lengthAdjust="spacingAndGlyphs" fill="#000" stroke="#000" stroke-width="0.18">MACD(12,26,9) 0.1160 0.0529</text>
<text x="2.6" y="618" font-size="9.8" textLength="70" lengthAdjust="spacingAndGlyphs" fill="#000" stroke="#000" stroke-width="0.18">RSI(14) 52.0104</text>
<path d="M1421 31 L1430.5 31 L1425.7 35.6 Z" fill="#c0c0c0" shape-rendering="auto"/>
<rect x="1325" y="260" width="54" height="10" fill="#00ff00"/>
<text x="1052.3" y="264" font-size="20.7" textLength="111.7" lengthAdjust="spacingAndGlyphs" font-weight="bold" font-family="Liberation Serif, Noto Serif CJK SC, serif" fill="#00ff00">多空转折点</text>
<text x="1165.5" y="264.2" font-size="21.4" textLength="78" lengthAdjust="spacingAndGlyphs" font-weight="bold" fill="#00ff00">142.736</text>
<defs><linearGradient id="pg" x1="0" y1="0" x2="0" y2="1"><stop offset="0" stop-color="#5858ff"/><stop offset="0.45" stop-color="#2a2ae0"/><stop offset="1" stop-color="#0606b4"/></linearGradient><linearGradient id="bg" x1="0" y1="0" x2="0" y2="1"><stop offset="0" stop-color="#f6f6f6"/><stop offset="1" stop-color="#dcdcdc"/></linearGradient></defs>
<rect x="2" y="50" width="219" height="64" fill="#0000c8"/>
<rect x="3" y="51" width="217" height="62" fill="url(#pg)"/>
<rect x="54" y="50" width="115" height="24" fill="#fff"/>
<rect x="111" y="74" width="2" height="40" fill="#fff"/>
<rect x="53" y="50" width="1" height="24" fill="#0000c8"/>
<rect x="169" y="50" width="1" height="24" fill="#0000c8"/>
<rect x="54" y="74" width="57" height="1" fill="#0000c8"/>
<rect x="113" y="74" width="56" height="1" fill="#0000c8"/>
<rect x="110" y="74" width="1" height="40" fill="#0000c8"/>
<rect x="113" y="74" width="1" height="40" fill="#0000c8"/>
<rect x="6" y="73" width="44" height="1" fill="#1818c0"/>
<rect x="173" y="73" width="44" height="1" fill="#1818c0"/>
<rect x="6" y="74" width="44" height="1" fill="#8c8cff"/>
<rect x="173" y="74" width="44" height="1" fill="#8c8cff"/>
<rect x="56" y="50" width="111" height="22" fill="#acacac"/>
<rect x="57" y="51" width="20" height="20" fill="url(#bg)"/>
<rect x="78" y="51" width="67" height="20" fill="#fff"/>
<rect x="146" y="51" width="20" height="20" fill="url(#bg)"/>
<path d="M63.5 58.5 L69.5 58.5 L66.5 62 Z" fill="#000" shape-rendering="auto"/>
<path d="M152.5 62 L158.5 62 L155.5 58.5 Z" fill="#000" shape-rendering="auto"/>
<text x="118.5" y="65" font-size="12.5" textLength="23" lengthAdjust="spacingAndGlyphs" fill="#1a1a1a">0.10</text>
<text x="14.5" y="66" font-size="12.6" textLength="25.5" lengthAdjust="spacingAndGlyphs" fill="#fff">SELL</text>
<text x="182.5" y="66" font-size="12.6" textLength="23" lengthAdjust="spacingAndGlyphs" fill="#fff">BUY</text>
<text x="26" y="105" font-size="12.5" textLength="20" lengthAdjust="spacingAndGlyphs" font-weight="bold" fill="#fff">142</text>
<text x="136" y="105" font-size="12.5" textLength="20" lengthAdjust="spacingAndGlyphs" font-weight="bold" fill="#fff">142</text>
<text x="51.5" y="105" font-size="32.5" textLength="32" lengthAdjust="spacingAndGlyphs" fill="#fff">57</text>
<text x="161" y="105" font-size="32.5" textLength="30" lengthAdjust="spacingAndGlyphs" fill="#fff">61</text>
<text x="89" y="89" font-size="11.5" textLength="7.5" lengthAdjust="spacingAndGlyphs" font-weight="bold" fill="#fff">0</text>
<text x="200.2" y="89" font-size="11.5" textLength="7" lengthAdjust="spacingAndGlyphs" font-weight="bold" fill="#fff">2</text>
<defs><pattern id="chk" width="2" height="2" patternUnits="userSpaceOnUse"><rect width="2" height="2" fill="#fff"/><rect width="1" height="1" fill="#f0f0f0"/><rect x="1" y="1" width="1" height="1" fill="#f0f0f0"/></pattern></defs>
<rect x="0" y="0" width="1630" height="1" fill="#fff"/>
<rect x="0" y="1" width="1630" height="25" fill="#f0f0f0"/>
<rect x="0" y="26" width="1630" height="1" fill="#b4b4b4"/>
<rect x="0" y="27" width="1630" height="1" fill="#696969"/>
<text x="-0.8" y="16.6" font-size="12.5" font-family="Liberation Sans, Noto Sans CJK SC, sans-serif" fill="#000">单</text>
<defs><linearGradient id="gd" x1="0" y1="0" x2="1" y2="1"><stop offset="0" stop-color="#fbe25a"/><stop offset="0.5" stop-color="#eebc18"/><stop offset="1" stop-color="#e0a010"/></linearGradient><linearGradient id="cl" x1="0" y1="0" x2="0" y2="1"><stop offset="0" stop-color="#ffffff"/><stop offset="1" stop-color="#b4c4dc"/></linearGradient><linearGradient id="sv" x1="0" y1="0" x2="1" y2="0"><stop offset="0" stop-color="#0c8cf0"/><stop offset="1" stop-color="#3cb0ff"/></linearGradient><linearGradient id="gs" x1="0" y1="0" x2="0" y2="1"><stop offset="0" stop-color="#d8ead8" stop-opacity="0.7"/><stop offset="1" stop-color="#3aa83a"/></linearGradient><radialGradient id="lens" cx="0.4" cy="0.35" r="0.7"><stop offset="0" stop-color="#f4fcff"/><stop offset="1" stop-color="#bfe6fb"/></radialGradient><linearGradient id="gg" x1="0" y1="0" x2="0" y2="1"><stop offset="0" stop-color="#42b020"/><stop offset="1" stop-color="#2a9410"/></linearGradient><linearGradient id="gb" x1="0" y1="0" x2="0" y2="1"><stop offset="0" stop-color="#3060e0"/><stop offset="1" stop-color="#1038b0"/></linearGradient><linearGradient id="ck" x1="1" y1="0" x2="0" y2="1"><stop offset="0" stop-color="#2a8cf0"/><stop offset="1" stop-color="#0848a8"/></linearGradient></defs>
<path d="M23.2 16.2 L25 14 L32.5 19 L38.4 14.6 L38.6 16.6 L31 21.8 Z" fill="#c88a10" stroke="#9a6408" stroke-width="0.7" shape-rendering="auto"/>
<path d="M33 19.4 L38.4 15 L38.5 16.2 L33.2 20.3 Z" fill="#ece2a8" shape-rendering="auto"/>
<path d="M28.4 7.3 L38 13.8 L32.4 18.8 L24.8 13.6 Q27.5 11 28.4 7.3 Z" fill="url(#gd)" stroke="#a87008" stroke-width="0.8" shape-rendering="auto"/>
<path d="M53.2 7.2 L56.5 6.2 L64 6.6 L64 15.5 L53.2 15.5 Z" fill="url(#sv)" stroke="#0a78d8" stroke-width="0.6" shape-rendering="auto"/>
<path d="M53.4 7.6 L56.8 8.6 L56.8 15.5" fill="none" stroke="#bfe4ff" stroke-width="0.8" shape-rendering="auto"/>
<rect x="58" y="10" width="5" height="2" fill="#e8f6ff"/>
<path d="M52.8 21.6 Q50.4 20.4 51.4 17.6 Q52.4 15.6 54.6 16.2 Q55.6 13.6 58.6 14.2 Q60.6 13.2 62 15.2 Q64.8 14.4 65.6 16.8 Q67.6 17.6 66.8 20 Q66.4 21.4 65 21.6 Z" fill="url(#cl)" stroke="#4668a8" stroke-width="0.9" shape-rendering="auto"/>
<circle cx="87" cy="14" r="7.5" fill="#f2f5fa" stroke="#a8c0e8" stroke-width="1.1" shape-rendering="auto"/>
<path d="M87 14 L87 21.6 A7.6 7.6 0 0 0 90.8 7.4 Z" fill="url(#gs)" shape-rendering="auto"/>
<circle cx="87" cy="14" r="5.2" fill="none" stroke="#7a9ce0" stroke-width="1.0" shape-rendering="auto" opacity="0.8"/>
<circle cx="87" cy="14" r="3.0" fill="none" stroke="#8aa8e4" stroke-width="0.9" shape-rendering="auto" opacity="0.8"/>
<circle cx="86.6" cy="13.6" r="1.9" fill="#2a56d0" shape-rendering="auto"/>
<rect x="87" y="14" width="1" height="8" fill="#22a022"/>
<path d="M106.3 13.6 L121.8 12.6 L116.5 21.6 L113 21.6 Z" fill="#f4d038" stroke="#c09010" stroke-width="0.7" shape-rendering="auto"/>
<path d="M108.5 14.5 L114 14.5 L114 20.5 Z" fill="#fbe878" shape-rendering="auto"/>
<ellipse cx="114" cy="11.4" rx="8" ry="2.9" fill="#52a8e0" stroke="#2a80b8" stroke-width="0.8" shape-rendering="auto"/>
<path d="M110 10.8 Q110.4 6.2 114.2 6.2 Q118 6.2 118.4 10.8 Q114.2 12.6 110 10.8 Z" fill="#7cc0ee" stroke="#2a80b8" stroke-width="0.7" shape-rendering="auto"/>
<circle cx="118.5" cy="18" r="4.1" fill="#e02410" stroke="#c01808" stroke-width="0.6" shape-rendering="auto"/>
<rect x="117" y="16.5" width="3" height="3" fill="#fff"/>
<text x="126.7" y="17.6" font-size="12.5" textLength="48.3" lengthAdjust="spacingAndGlyphs" font-family="Liberation Sans, Noto Sans CJK SC, sans-serif" fill="#000">自动交易</text>
<rect x="182" y="1" width="1" height="25" fill="#a0a0a0"/>
<rect x="183" y="1" width="1" height="25" fill="#fff"/>
<rect x="186" y="4" width="3" height="1" fill="#a8a8a8"/>
<rect x="186" y="6" width="3" height="1" fill="#a8a8a8"/>
<rect x="186" y="8" width="3" height="1" fill="#a8a8a8"/>
<rect x="186" y="10" width="3" height="1" fill="#a8a8a8"/>
<rect x="186" y="12" width="3" height="1" fill="#a8a8a8"/>
<rect x="186" y="14" width="3" height="1" fill="#a8a8a8"/>
<rect x="186" y="16" width="3" height="1" fill="#a8a8a8"/>
<rect x="186" y="18" width="3" height="1" fill="#a8a8a8"/>
<rect x="186" y="20" width="3" height="1" fill="#a8a8a8"/>
<rect x="186" y="22" width="3" height="1" fill="#a8a8a8"/>
<rect x="200" y="8" width="1" height="14" fill="#505050"/>
<rect x="198" y="19" width="14" height="1" fill="#505050"/>
<rect x="199" y="9" width="3" height="1" fill="#505050"/>
<rect x="210" y="18" width="1" height="3" fill="#505050"/>
<path d="M206.5 9 L206.5 17.5 M204 16.5 L206.5 16.5 M206.5 10.5 L209 10.5" fill="none" stroke="#0a8a0a" stroke-width="1.15" shape-rendering="auto"/>
<rect x="220" y="2" width="26" height="23" fill="url(#chk)"/>
<rect x="220" y="2" width="25" height="1" fill="#a0a0a0"/>
<rect x="220" y="2" width="1" height="22" fill="#a0a0a0"/>
<rect x="245" y="2" width="1" height="23" fill="#fff"/>
<rect x="220" y="24" width="26" height="1" fill="#fff"/>
<rect x="228" y="8" width="1" height="14" fill="#505050"/>
<rect x="226" y="19" width="14" height="1" fill="#505050"/>
<rect x="227" y="9" width="3" height="1" fill="#505050"/>
<rect x="238" y="18" width="1" height="3" fill="#505050"/>
<rect x="234" y="6" width="1" height="12" fill="#0a8a0a"/>
<rect x="232" y="8" width="5" height="8" fill="#0a8a0a"/>
<rect x="233" y="9" width="3" height="6" fill="#50dc50"/>
<rect x="256" y="8" width="1" height="14" fill="#505050"/>
<rect x="254" y="19" width="14" height="1" fill="#505050"/>
<rect x="255" y="9" width="3" height="1" fill="#505050"/>
<rect x="266" y="18" width="1" height="3" fill="#505050"/>
<path d="M255 16.5 Q259 13 261 11.5 Q262.5 10.5 264 12.5 Q265.5 14.5 267 15" fill="none" stroke="#2f9a2f" stroke-width="1.3" shape-rendering="auto"/>
<rect x="277" y="3" width="1" height="21" fill="#a0a0a0"/>
<rect x="278" y="3" width="1" height="21" fill="#fbfbfb"/>
<path d="M296 16 L300.8 20.8" fill="none" stroke="#a87800" stroke-width="3.6" shape-rendering="auto"/>
<path d="M296 16 L300.6 20.6" fill="none" stroke="#f0d030" stroke-width="2.2" shape-rendering="auto"/>
<circle cx="292.05" cy="12.05" r="5.5" fill="url(#lens)" stroke="#3a82d0" stroke-width="1.3" shape-rendering="auto"/>
<rect x="288" y="11" width="8" height="2" fill="#3a8cba"/>
<rect x="291" y="8" width="2" height="8" fill="#3a8cba"/>
<path d="M324 16 L328.8 20.8" fill="none" stroke="#a87800" stroke-width="3.6" shape-rendering="auto"/>
<path d="M324 16 L328.6 20.6" fill="none" stroke="#f0d030" stroke-width="2.2" shape-rendering="auto"/>
<circle cx="320.05" cy="12.05" r="5.5" fill="url(#lens)" stroke="#3a82d0" stroke-width="1.3" shape-rendering="auto"/>
<rect x="316" y="11" width="8" height="2" fill="#3a8cba"/>
<rect x="342" y="6" width="8" height="8" fill="url(#gg)"/>
<rect x="343" y="9" width="6" height="4" fill="#fff"/>
<rect x="343" y="7" width="1" height="1" fill="#e8f0ff"/>
<rect x="344" y="10" width="4" height="1" fill="#a8d098"/>
<rect x="344" y="13" width="4" height="1" fill="url(#gg)"/>
<rect x="350" y="6" width="8" height="8" fill="url(#gb)"/>
<rect x="351" y="9" width="6" height="4" fill="#fff"/>
<rect x="351" y="7" width="1" height="1" fill="#e8f0ff"/>
<rect x="352" y="10" width="4" height="1" fill="#a0b4f0"/>
<rect x="352" y="13" width="4" height="1" fill="url(#gb)"/>
<rect x="342" y="14" width="8" height="8" fill="url(#gb)"/>
<rect x="343" y="17" width="6" height="4" fill="#fff"/>
<rect x="343" y="15" width="1" height="1" fill="#e8f0ff"/>
<rect x="344" y="18" width="4" height="1" fill="#a0b4f0"/>
<rect x="344" y="21" width="4" height="1" fill="url(#gb)"/>
<rect x="350" y="14" width="8" height="8" fill="url(#gg)"/>
<rect x="351" y="17" width="6" height="4" fill="#fff"/>
<rect x="351" y="15" width="1" height="1" fill="#e8f0ff"/>
<rect x="352" y="18" width="4" height="1" fill="#a8d098"/>
<rect x="352" y="21" width="4" height="1" fill="url(#gg)"/>
<rect x="367" y="3" width="1" height="21" fill="#a0a0a0"/>
<rect x="368" y="3" width="1" height="21" fill="#fbfbfb"/>
<rect x="372" y="2" width="26" height="23" fill="url(#chk)"/>
<rect x="372" y="2" width="25" height="1" fill="#a0a0a0"/>
<rect x="372" y="2" width="1" height="22" fill="#a0a0a0"/>
<rect x="397" y="2" width="1" height="23" fill="#fff"/>
<rect x="372" y="24" width="26" height="1" fill="#fff"/>
<rect x="380" y="8" width="1" height="14" fill="#505050"/>
<rect x="378" y="19" width="14" height="1" fill="#505050"/>
<rect x="379" y="9" width="3" height="1" fill="#505050"/>
<rect x="390" y="18" width="1" height="3" fill="#505050"/>
<path d="M385.2 10.6 L385.2 16.8 L389.2 13.7 Z" fill="#58dc58" stroke="#109010" stroke-width="1" shape-rendering="auto"/>
<rect x="400" y="2" width="26" height="23" fill="url(#chk)"/>
<rect x="400" y="2" width="25" height="1" fill="#a0a0a0"/>
<rect x="400" y="2" width="1" height="22" fill="#a0a0a0"/>
<rect x="425" y="2" width="1" height="23" fill="#fff"/>
<rect x="400" y="24" width="26" height="1" fill="#fff"/>
<rect x="408" y="8" width="1" height="14" fill="#505050"/>
<rect x="406" y="19" width="14" height="1" fill="#505050"/>
<rect x="407" y="9" width="3" height="1" fill="#505050"/>
<rect x="418" y="18" width="1" height="3" fill="#505050"/>
<rect x="414" y="7" width="1" height="12" fill="#2a6cb8"/>
<path d="M416 13.5 L421 13.5 M416 13.5 L418.5 11 M416 13.5 L418.5 16" fill="none" stroke="#d04010" stroke-width="1.2" shape-rendering="auto"/>
<rect x="429" y="3" width="1" height="21" fill="#a0a0a0"/>
<rect x="430" y="3" width="1" height="21" fill="#fbfbfb"/>
<path d="M439.6 6.6 L447.5 6.6 L450.6 9.6 L450.6 19.4 L439.6 19.4 Z" fill="#f6f6f6" stroke="#8c8c8c" stroke-width="0.9" shape-rendering="auto"/>
<path d="M447.5 6.6 L447.5 9.6 L450.6 9.6" fill="#e0e0e0" stroke="#8c8c8c" stroke-width="0.7" shape-rendering="auto"/>
<path d="M444.2 8.8 Q442.6 8.6 442.6 10.4 L442.6 16.4 M441.6 12 L443.8 12" fill="none" stroke="#505030" stroke-width="0.9" shape-rendering="auto"/>
<path d="M447.2 12.4 L450.8 12.4 L450.8 16.1 L454.6 16.1 L454.6 19.6 L450.8 19.6 L450.8 23.4 L447.2 23.4 L447.2 19.6 L443.4 19.6 L443.4 16.1 L447.2 16.1 Z" fill="#22d422" stroke="#0a8c0a" stroke-width="0.8" shape-rendering="auto"/>
<path d="M448 13.2 L450 13.2 L450 16.9 L453.8 16.9" fill="none" stroke="#8cf08c" stroke-width="0.7" shape-rendering="auto"/>
<path d="M460.5 12.5 L466.5 12.5 L463.5 16 Z" fill="#000" shape-rendering="auto"/>
<circle cx="484.9" cy="14" r="7.0" fill="#f2f5f9" stroke="url(#ck)" stroke-width="2.4" shape-rendering="auto"/>
<circle cx="489.5" cy="14.0" r="0.35" fill="#8090a8" shape-rendering="auto"/>
<circle cx="488.88" cy="16.3" r="0.35" fill="#8090a8" shape-rendering="auto"/>
<circle cx="487.2" cy="17.98" r="0.35" fill="#8090a8" shape-rendering="auto"/>
<circle cx="484.9" cy="18.6" r="0.35" fill="#8090a8" shape-rendering="auto"/>
<circle cx="482.6" cy="17.98" r="0.35" fill="#8090a8" shape-rendering="auto"/>
<circle cx="480.92" cy="16.3" r="0.35" fill="#8090a8" shape-rendering="auto"/>
<circle cx="480.3" cy="14.0" r="0.35" fill="#8090a8" shape-rendering="auto"/>
<circle cx="480.92" cy="11.7" r="0.35" fill="#8090a8" shape-rendering="auto"/>
<circle cx="482.6" cy="10.02" r="0.35" fill="#8090a8" shape-rendering="auto"/>
<circle cx="484.9" cy="9.4" r="0.35" fill="#8090a8" shape-rendering="auto"/>
<circle cx="487.2" cy="10.02" r="0.35" fill="#8090a8" shape-rendering="auto"/>
<circle cx="488.88" cy="11.7" r="0.35" fill="#8090a8" shape-rendering="auto"/>
<path d="M484.9 9.8 L484.9 14.2 L487.6 15.4" fill="none" stroke="#202020" stroke-width="1.1" shape-rendering="auto"/>
<path d="M499.5 12.5 L505.5 12.5 L502.5 16 Z" fill="#000" shape-rendering="auto"/>
<rect x="516" y="7" width="16" height="14" fill="#2a70c8"/>
<rect x="517" y="7" width="14" height="2" fill="#a8c8f0"/>
<rect x="517" y="10" width="14" height="10" fill="#fff"/>
<rect x="517" y="15" width="14" height="1" fill="#5a90d8"/>
<path d="M518 13 L520 13 L522 11.6 L524 11.6 L526 12.6 L528 12.6 L530 11.4" fill="none" stroke="#a02010" stroke-width="1.2" shape-rendering="auto"/>
<path d="M518 18.4 L520 18.4 L521.5 17.4 L523 18.4 L525 18 L527 16.6 L528.5 17.6 L530 18.6" fill="none" stroke="#108020" stroke-width="1.1" shape-rendering="auto"/>
<path d="M538.5 12.5 L544.5 12.5 L541.5 16 Z" fill="#000" shape-rendering="auto"/>
<rect x="550" y="1" width="1" height="25" fill="#a0a0a0"/>
<rect x="551" y="1" width="1" height="25" fill="#fff"/>
<rect x="554" y="4" width="3" height="1" fill="#a8a8a8"/>
<rect x="554" y="6" width="3" height="1" fill="#a8a8a8"/>
<rect x="554" y="8" width="3" height="1" fill="#a8a8a8"/>
<rect x="554" y="10" width="3" height="1" fill="#a8a8a8"/>
<rect x="554" y="12" width="3" height="1" fill="#a8a8a8"/>
<rect x="554" y="14" width="3" height="1" fill="#a8a8a8"/>
<rect x="554" y="16" width="3" height="1" fill="#a8a8a8"/>
<rect x="554" y="18" width="3" height="1" fill="#a8a8a8"/>
<rect x="554" y="20" width="3" height="1" fill="#a8a8a8"/>
<rect x="554" y="22" width="3" height="1" fill="#a8a8a8"/>
<rect x="560" y="2" width="26" height="23" fill="url(#chk)"/>
<rect x="560" y="2" width="25" height="1" fill="#a0a0a0"/>
<rect x="560" y="2" width="1" height="22" fill="#a0a0a0"/>
<rect x="585" y="2" width="1" height="23" fill="#fff"/>
<rect x="560" y="24" width="26" height="1" fill="#fff"/>
<path d="M568.5 6.5 L568.5 18.5 L571.3 15.8 L573.5 21 L575.5 20 L573.3 15 L577 15 Z" fill="#202020" shape-rendering="auto"/>
<rect x="593" y="14" width="16" height="1" fill="#505050"/>
<rect x="600" y="7" width="1" height="16" fill="#505050"/>
<rect x="600" y="14" width="1" height="1" fill="#f0f0f0"/>
<rect x="617" y="3" width="1" height="21" fill="#a0a0a0"/>
<rect x="618" y="3" width="1" height="21" fill="#fbfbfb"/>
<rect x="634" y="8" width="1" height="13" fill="#505050"/>
<rect x="657" y="14" width="13" height="1" fill="#505050"/>
<path d="M685 21 L697 8.5" fill="none" stroke="#505050" stroke-width="1.1" shape-rendering="auto"/>
<path d="M710.5 17 L722 6.5 M711 21 L725 9 M715.5 21 L725.5 12.5" fill="none" stroke="#505050" stroke-width="1.15" shape-rendering="auto"/>
<path d="M713.5 13.5 L715 21 M717.5 10 L719.5 18 M721.5 6 L724 14" fill="none" stroke="#505050" stroke-width="0.9" shape-rendering="auto"/>
<text x="722" y="22.5" font-size="7" font-weight="bold" fill="#303030" stroke="#303030" stroke-width="0.18">E</text>
<line x1="740" y1="7.5" x2="754" y2="7.5" stroke="#505050" stroke-width="1" stroke-dasharray="1 1"/>
<line x1="740" y1="11.5" x2="754" y2="11.5" stroke="#505050" stroke-width="1" stroke-dasharray="1 1"/>
<line x1="740" y1="14.5" x2="754" y2="14.5" stroke="#505050" stroke-width="1" stroke-dasharray="1 1"/>
<line x1="740" y1="18.5" x2="748" y2="18.5" stroke="#505050" stroke-width="1" stroke-dasharray="1 1"/>
<text x="749.5" y="22.5" font-size="7" font-weight="bold" fill="#303030" stroke="#303030" stroke-width="0.18">F</text>
<text x="770.6" y="19" font-size="12" textLength="8.2" lengthAdjust="spacingAndGlyphs" font-weight="bold" fill="#5a5a5a">A</text>
<rect x="797.5" y="8.5" width="11" height="12" fill="none" stroke="#505050" stroke-width="1" stroke-dasharray="1 1"/>
<text x="799" y="19" font-size="11.5" textLength="8" lengthAdjust="spacingAndGlyphs" font-weight="bold" fill="#505050">T</text>
<path d="M823.5 10.6 L827 7.8 L830.5 10.6 L827 13.4 Z" fill="#404040" shape-rendering="auto"/>
<path d="M831.5 18.2 L835 15.4 L838.5 18.2 L835 21 Z" fill="#404040" shape-rendering="auto"/>
<path d="M826 15 L829 18 L834 12" fill="none" stroke="#404040" stroke-width="1.3" shape-rendering="auto"/>
<path d="M844.5 12.5 L850.5 12.5 L847.5 16 Z" fill="#000" shape-rendering="auto"/>
<rect x="856" y="1" width="1" height="25" fill="#a0a0a0"/>
<rect x="857" y="1" width="1" height="25" fill="#fff"/>
<rect x="860" y="4" width="3" height="1" fill="#a8a8a8"/>
<rect x="860" y="6" width="3" height="1" fill="#a8a8a8"/>
<rect x="860" y="8" width="3" height="1" fill="#a8a8a8"/>
<rect x="860" y="10" width="3" height="1" fill="#a8a8a8"/>
<rect x="860" y="12" width="3" height="1" fill="#a8a8a8"/>
<rect x="860" y="14" width="3" height="1" fill="#a8a8a8"/>
<rect x="860" y="16" width="3" height="1" fill="#a8a8a8"/>
<rect x="860" y="18" width="3" height="1" fill="#a8a8a8"/>
<rect x="860" y="20" width="3" height="1" fill="#a8a8a8"/>
<rect x="860" y="22" width="3" height="1" fill="#a8a8a8"/>
<text x="871.5" y="18" font-size="9.8" textLength="12.5" lengthAdjust="spacingAndGlyphs" fill="#404040" stroke="#404040" stroke-width="0.18">M1</text>
<text x="899.5" y="18" font-size="9.8" textLength="12.5" lengthAdjust="spacingAndGlyphs" fill="#404040" stroke="#404040" stroke-width="0.18">M5</text>
<text x="925.7" y="18" font-size="9.8" textLength="17.6" lengthAdjust="spacingAndGlyphs" fill="#404040" stroke="#404040" stroke-width="0.18">M15</text>
<text x="953.5" y="18" font-size="9.8" textLength="17.8" lengthAdjust="spacingAndGlyphs" fill="#404040" stroke="#404040" stroke-width="0.18">M30</text>
<text x="985" y="18" font-size="9.8" textLength="11.2" lengthAdjust="spacingAndGlyphs" fill="#404040" stroke="#404040" stroke-width="0.18">H1</text>
<rect x="1006" y="2" width="26" height="23" fill="url(#chk)"/>
<rect x="1006" y="2" width="25" height="1" fill="#a0a0a0"/>
<rect x="1006" y="2" width="1" height="22" fill="#a0a0a0"/>
<rect x="1031" y="2" width="1" height="23" fill="#fff"/>
<rect x="1006" y="24" width="26" height="1" fill="#fff"/>
<text x="1012" y="18" font-size="9.8" textLength="11.8" lengthAdjust="spacingAndGlyphs" fill="#404040" stroke="#404040" stroke-width="0.18">H4</text>
<text x="1040.6" y="18" font-size="9.8" textLength="11.4" lengthAdjust="spacingAndGlyphs" fill="#404040" stroke="#404040" stroke-width="0.18">D1</text>
<text x="1068.2" y="18" font-size="9.8" textLength="14.1" lengthAdjust="spacingAndGlyphs" fill="#404040" stroke="#404040" stroke-width="0.18">W1</text>
<text x="1095" y="18" font-size="9.8" textLength="14.3" lengthAdjust="spacingAndGlyphs" fill="#404040" stroke="#404040" stroke-width="0.18">MN</text>
<rect x="1117" y="1" width="1" height="25" fill="#a0a0a0"/>
<rect x="1118" y="1" width="1" height="25" fill="#fff"/>
<path d="M1584.6 14.5 L1580.4 18.6" fill="none" stroke="#1a50c8" stroke-width="2.5" shape-rendering="auto" stroke-linecap="round"/>
<circle cx="1587.6" cy="11.5" r="3.9" fill="#f8f8ff" stroke="#2a60d8" stroke-width="1.5" shape-rendering="auto"/>
<defs><linearGradient id="bb" x1="0" y1="0" x2="0" y2="1"><stop offset="0" stop-color="#ffffff"/><stop offset="1" stop-color="#d8d8e0"/></linearGradient></defs>
<path d="M1621.6 15.6 L1623.4 17.6 L1623.6 14.8 Z" fill="#707070" stroke="#707070" stroke-width="0.6" shape-rendering="auto"/>
<ellipse cx="1620.2" cy="11" rx="6.6" ry="4.8" fill="url(#bb)" stroke="#8c8c8c" stroke-width="0.9" shape-rendering="auto"/>
<path d="M1609.4 18.4 L1608.4 20.6 L1611 18.9 Z" fill="#707070" stroke="#707070" stroke-width="0.6" shape-rendering="auto"/>
<ellipse cx="1611.2" cy="15.1" rx="5" ry="3.7" fill="url(#bb)" stroke="#8c8c8c" stroke-width="0.9" shape-rendering="auto"/>
</svg>
</body></html>
